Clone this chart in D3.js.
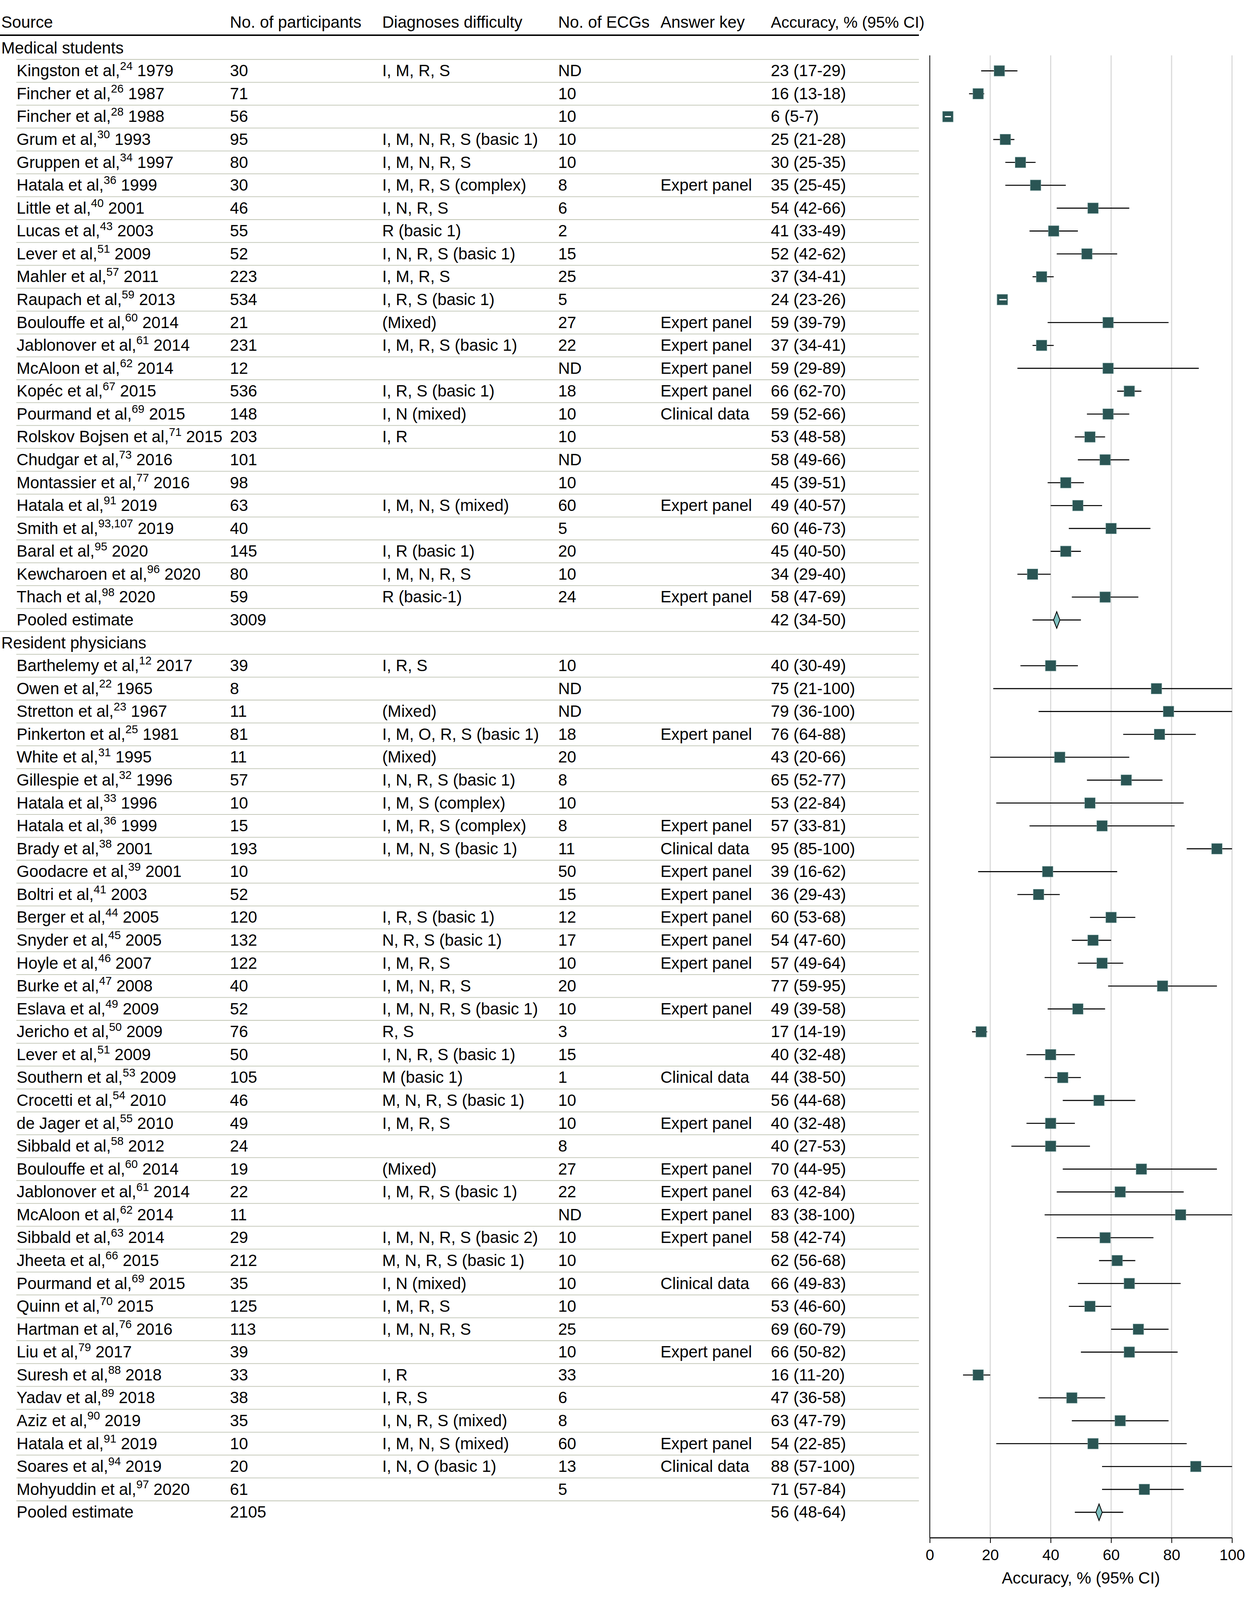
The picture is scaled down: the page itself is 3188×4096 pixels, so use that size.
<!DOCTYPE html>
<html><head><meta charset="utf-8">
<script src="https://cdn.jsdelivr.net/npm/d3@7"></script>
<style>
html,body{margin:0;padding:0;background:#fff;}
svg{display:block;}
text{font-family:"Liberation Sans",Arial,sans-serif;fill:#000;}
</style>
</head><body>
<svg id="chart" width="3188" height="4096"></svg>
<script>
// ---------- DATA ----------
const groupNames = ["Medical students", "Resident physicians"];
const columnHeaders = ["Source", "No. of participants", "Diagnoses difficulty", "No. of ECGs", "Answer key", "Accuracy, % (95% CI)"];
const xTickValues = [0, 20, 40, 60, 80, 100];
const xAxisTitle = "Accuracy, % (95% CI)";

const studyGroup = [0,0,0,0,0,0,0,0,0,0,0,0,0,0,0,0,0,0,0,0,0,0,0,0,
  1,1,1,1,1,1,1,1,1,1,1,1,1,1,1,1,1,1,1,1,1,1,1,1,1,1,1,1,1,1,1,1,1,1,1,1,1];

const studyAuthor = ["Kingston et al,","Fincher et al,","Fincher et al,","Grum et al,","Gruppen et al,","Hatala et al,","Little et al,","Lucas et al,","Lever et al,","Mahler et al,","Raupach et al,","Boulouffe et al,","Jablonover et al,","McAloon et al,","Kopéc et al,","Pourmand et al,","Rolskov Bojsen et al,","Chudgar et al,","Montassier et al,","Hatala et al,","Smith et al,","Baral et al,","Kewcharoen et al,","Thach et al,",
  "Barthelemy et al,","Owen et al,","Stretton et al,","Pinkerton et al,","White et al,","Gillespie et al,","Hatala et al,","Hatala et al,","Brady et al,","Goodacre et al,","Boltri et al,","Berger et al,","Snyder et al,","Hoyle et al,","Burke et al,","Eslava et al,","Jericho et al,","Lever et al,","Southern et al,","Crocetti et al,","de Jager et al,","Sibbald et al,","Boulouffe et al,","Jablonover et al,","McAloon et al,","Sibbald et al,","Jheeta et al,","Pourmand et al,","Quinn et al,","Hartman et al,","Liu et al,","Suresh et al,","Yadav et al,","Aziz et al,","Hatala et al,","Soares et al,","Mohyuddin et al,"];

const studyRef = ["24","26","28","30","34","36","40","43","51","57","59","60","61","62","67","69","71","73","77","91","93,107","95","96","98",
  "12","22","23","25","31","32","33","36","38","39","41","44","45","46","47","49","50","51","53","54","55","58","60","61","62","63","66","69","70","76","79","88","89","90","91","94","97"];

const studyYear = [1979,1987,1988,1993,1997,1999,2001,2003,2009,2011,2013,2014,2014,2014,2015,2015,2015,2016,2016,2019,2019,2020,2020,2020,
  2017,1965,1967,1981,1995,1996,1996,1999,2001,2001,2003,2005,2005,2007,2008,2009,2009,2009,2009,2010,2010,2012,2014,2014,2014,2014,2015,2015,2015,2016,2017,2018,2018,2019,2019,2019,2020];

const nParticipants = [30,71,56,95,80,30,46,55,52,223,534,21,231,12,536,148,203,101,98,63,40,145,80,59,
  39,8,11,81,11,57,10,15,193,10,52,120,132,122,40,52,76,50,105,46,49,24,19,22,11,29,212,35,125,113,39,33,38,35,10,20,61];

const difficulty = ["I, M, R, S","","","I, M, N, R, S (basic 1)","I, M, N, R, S","I, M, R, S (complex)","I, N, R, S","R (basic 1)","I, N, R, S (basic 1)","I, M, R, S","I, R, S (basic 1)","(Mixed)","I, M, R, S (basic 1)","","I, R, S (basic 1)","I, N (mixed)","I, R","","","I, M, N, S (mixed)","","I, R (basic 1)","I, M, N, R, S","R (basic-1)",
  "I, R, S","","(Mixed)","I, M, O, R, S (basic 1)","(Mixed)","I, N, R, S (basic 1)","I, M, S (complex)","I, M, R, S (complex)","I, M, N, S (basic 1)","","","I, R, S (basic 1)","N, R, S (basic 1)","I, M, R, S","I, M, N, R, S","I, M, N, R, S (basic 1)","R, S","I, N, R, S (basic 1)","M (basic 1)","M, N, R, S (basic 1)","I, M, R, S","","(Mixed)","I, M, R, S (basic 1)","","I, M, N, R, S (basic 2)","M, N, R, S (basic 1)","I, N (mixed)","I, M, R, S","I, M, N, R, S","","I, R","I, R, S","I, N, R, S (mixed)","I, M, N, S (mixed)","I, N, O (basic 1)",""];

const nECGs = ["ND","10","10","10","10","8","6","2","15","25","5","27","22","ND","18","10","10","ND","10","60","5","20","10","24",
  "10","ND","ND","18","20","8","10","8","11","50","15","12","17","10","20","10","3","15","1","10","10","8","27","22","ND","10","10","10","10","25","10","33","6","8","60","13","5"];

const answerKey = ["","","","","","Expert panel","","","","","","Expert panel","Expert panel","Expert panel","Expert panel","Clinical data","","","","Expert panel","","","","Expert panel",
  "","","","Expert panel","","","","Expert panel","Clinical data","Expert panel","Expert panel","Expert panel","Expert panel","Expert panel","","Expert panel","","","Clinical data","","Expert panel","","Expert panel","Expert panel","Expert panel","Expert panel","","Clinical data","","","Expert panel","","","","Expert panel","Clinical data",""];

const accuracy = [23,16,6,25,30,35,54,41,52,37,24,59,37,59,66,59,53,58,45,49,60,45,34,58,
  40,75,79,76,43,65,53,57,95,39,36,60,54,57,77,49,17,40,44,56,40,40,70,63,83,58,62,66,53,69,66,16,47,63,54,88,71];
const ciLow = [17,13,5,21,25,25,42,33,42,34,23,39,34,29,62,52,48,49,39,40,46,40,29,47,
  30,21,36,64,20,52,22,33,85,16,29,53,47,49,59,39,14,32,38,44,32,27,44,42,38,42,56,49,46,60,50,11,36,47,22,57,57];
const ciHigh = [29,18,7,28,35,45,66,49,62,41,26,79,41,89,70,66,58,66,51,57,73,50,40,69,
  49,100,100,88,66,77,84,81,100,62,43,68,60,64,95,58,19,48,50,68,48,53,95,84,100,74,68,83,60,79,82,20,58,79,85,100,84];

const pooledLabel = "Pooled estimate";
const pooledN = [3009, 2105];
const pooledAcc = [42, 56];
const pooledLow = [34, 48];
const pooledHigh = [50, 64];

// ---------- BUILD ROWS ----------
const rows = [];
groupNames.forEach((g, gi) => {
  rows.push({type: "group", label: g});
  studyAuthor.forEach((a, i) => {
    if (studyGroup[i] !== gi) return;
    rows.push({type: "study", author: a, ref: studyRef[i], year: studyYear[i], n: nParticipants[i],
      diff: difficulty[i], ecg: nECGs[i], key: answerKey[i], est: accuracy[i], lo: ciLow[i], hi: ciHigh[i]});
  });
  rows.push({type: "pooled", label: pooledLabel, n: pooledN[gi], est: pooledAcc[gi], lo: pooledLow[gi], hi: pooledHigh[gi]});
});

// ---------- LAYOUT (reference pixel space, scaled) ----------
const S = 0.819;
const svg = d3.select("#chart");
svg.append("rect").attr("width", 3188).attr("height", 4096).attr("fill", "#fff");
const g = svg.append("g").attr("transform", `scale(${S})`);

const FS = 51;
const colX = [4, 719, 1195, 1745, 2065, 2410];
const indentX = 52;
const tableRight = 2873;

const y = d3.scaleLinear().domain([0, rows.length - 1]).range([150, 4727]);
const x = d3.scaleLinear().domain([0, 100]).range([2907, 3852]);
const plotTop = 173, plotBottom = 4807;

// header
g.append("g").selectAll("text").data(columnHeaders).join("text")
  .attr("x", (d, i) => colX[i]).attr("y", 87)
  .attr("font-size", (d, i) => i === 5 ? 49.5 : FS).text(d => d);
g.append("line").attr("x1", 0).attr("x2", tableRight).attr("y1", 110).attr("y2", 110)
  .attr("stroke", "#000").attr("stroke-width", 4.5);

// separators
const sepColor = "#c6cabb";
const seps = d3.range(1, rows.length);
g.append("g").selectAll("line").data(seps).join("line")
  .attr("x1", i => rows[i].type === "group" ? 0 : indentX - 1)
  .attr("x2", tableRight)
  .attr("y1", i => (y(i - 1) + y(i)) / 2).attr("y2", i => (y(i - 1) + y(i)) / 2)
  .attr("stroke", sepColor).attr("stroke-width", 2.5);

// row texts
const base = 17;
const rowG = g.append("g");
rows.forEach((r, i) => {
  const yy = y(i) + base;
  if (r.type === "group") {
    rowG.append("text").attr("x", colX[0]).attr("y", yy).attr("font-size", FS).text(r.label);
    return;
  }
  if (r.type === "pooled") {
    rowG.append("text").attr("x", indentX).attr("y", yy).attr("font-size", FS).text(r.label);
  } else {
    const t = rowG.append("text").attr("x", indentX).attr("y", yy).attr("font-size", FS);
    t.append("tspan").text(r.author);
    t.append("tspan").attr("font-size", FS * 0.7).attr("dy", -FS * 0.4).text(r.ref);
    t.append("tspan").attr("dy", FS * 0.4).text(" " + r.year);
    rowG.append("text").attr("x", colX[2]).attr("y", yy).attr("font-size", FS).text(r.diff);
    rowG.append("text").attr("x", colX[3]).attr("y", yy).attr("font-size", FS).text(r.ecg);
    rowG.append("text").attr("x", colX[4]).attr("y", yy).attr("font-size", FS).text(r.key);
  }
  rowG.append("text").attr("x", colX[1]).attr("y", yy).attr("font-size", FS).text(r.n);
  rowG.append("text").attr("x", colX[5]).attr("y", yy).attr("font-size", FS)
    .text(`${r.est} (${r.lo}-${r.hi})`);
});

// ---------- FOREST PLOT ----------
const plot = g.append("g");
plot.append("g").selectAll("line").data(xTickValues.filter(v => v > 0)).join("line")
  .attr("x1", d => x(d)).attr("x2", d => x(d))
  .attr("y1", plotTop).attr("y2", plotBottom)
  .attr("stroke", "#d9d9d9").attr("stroke-width", 3.5);
plot.append("line").attr("x1", x(0)).attr("x2", x(0)).attr("y1", plotTop).attr("y2", plotBottom)
  .attr("stroke", "#000").attr("stroke-width", 2.5);

const axis = d3.axisBottom(x).tickValues(xTickValues).tickSize(16).tickPadding(6).tickFormat(d3.format("d"));
const axG = plot.append("g").attr("transform", `translate(0,${plotBottom})`).call(axis);
axG.select(".domain").attr("stroke", "#000").attr("stroke-width", 3.5).attr("d", `M${x(0)},0H${x(100)}`);
axG.selectAll(".tick line").attr("stroke", "#000").attr("stroke-width", 2.5);
axG.selectAll(".tick text").attr("font-size", 48).attr("font-family", '"Liberation Sans",Arial,sans-serif')
  .attr("fill", "#000").attr("dy", null).attr("y", 70);
plot.append("text").attr("x", (x(0) + x(100)) / 2).attr("y", 4950).attr("text-anchor", "middle")
  .attr("font-size", FS).text(xAxisTitle);

const boxW = 33;
const studyRows = rows.map((r, i) => ({...r, i})).filter(r => r.type === "study");
const pooledRows = rows.map((r, i) => ({...r, i})).filter(r => r.type === "pooled");

studyRows.forEach(r => {
  const cy = y(r.i), cx = x(r.est);
  const inside = (x(r.hi) - x(r.lo)) < boxW;
  if (!inside) {
    plot.append("line").attr("x1", x(r.lo)).attr("x2", x(r.hi)).attr("y1", cy).attr("y2", cy)
      .attr("stroke", "#000").attr("stroke-width", 3.2);
  }
  plot.append("rect").attr("x", cx - boxW / 2).attr("y", cy - boxW / 2)
    .attr("width", boxW).attr("height", boxW)
    .attr("fill", "#2a5554").attr("stroke", "#6f9695").attr("stroke-width", 1.2);
  if (inside) {
    const a = Math.max(x(r.lo), cx - boxW / 2 + 3), b = Math.min(x(r.hi), cx + boxW / 2 - 3);
    plot.append("line").attr("x1", a).attr("x2", b).attr("y1", cy).attr("y2", cy)
      .attr("stroke", "#fff").attr("stroke-width", 4);
  }
});

pooledRows.forEach(r => {
  const cy = y(r.i), cx = x(r.est);
  plot.append("line").attr("x1", x(r.lo)).attr("x2", x(r.hi)).attr("y1", cy).attr("y2", cy)
    .attr("stroke", "#000").attr("stroke-width", 3.2);
  plot.append("path")
    .attr("d", `M${cx},${cy - 26}L${cx + 10},${cy}L${cx},${cy + 26}L${cx - 10},${cy}Z`)
    .attr("fill", "#80c1c0").attr("stroke", "#000").attr("stroke-width", 2.5);
});
</script>
</body></html>
